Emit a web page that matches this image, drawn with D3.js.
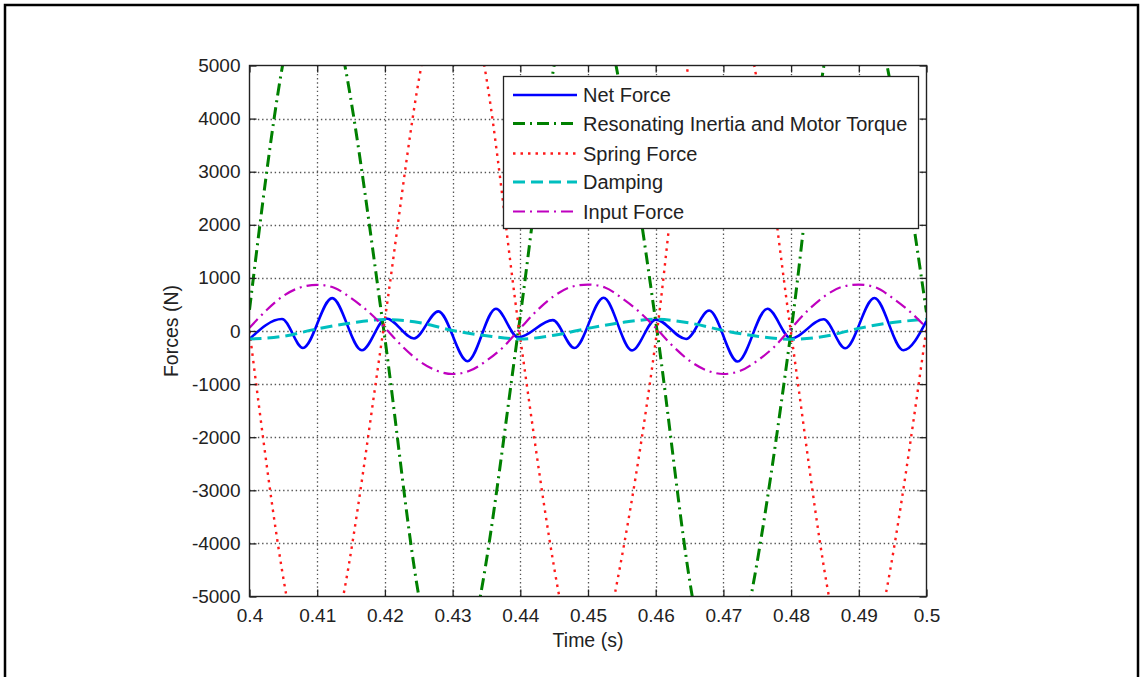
<!DOCTYPE html>
<html><head><meta charset="utf-8">
<script src="https://cdn.jsdelivr.net/npm/d3@7/dist/d3.min.js"></script>
<style>
body{margin:0;background:#fff}
svg{display:block}
text{font-family:"Liberation Sans",Arial,Helvetica,sans-serif;fill:#222}
</style>
</head><body>
<svg id="chart" width="1141" height="677"></svg>
<script>
// ---- data ----
const xTickValues = [0.40,0.41,0.42,0.43,0.44,0.45,0.46,0.47,0.48,0.49,0.50];
const xTickLabels = ["0.4","0.41","0.42","0.43","0.44","0.45","0.46","0.47","0.48","0.49","0.5"];
const yTickValues = [-5000,-4000,-3000,-2000,-1000,0,1000,2000,3000,4000,5000];
const yTickLabels = ["-5000","-4000","-3000","-2000","-1000","0","1000","2000","3000","4000","5000"];
const seriesNames = ["Net Force","Resonating Inertia and Motor Torque","Spring Force","Damping","Input Force"];

const netTime  = [0.4000,0.4048,0.4079,0.4122,0.4166,0.4202,0.4243,0.4279,0.4322,0.4364,0.4397,0.4448,0.4480,0.4523,0.4565,0.4600,0.4645,0.4679,0.4721,0.4765,0.4800,0.4848,0.4880,0.4923,0.4966,0.5000];
const netForce = [-150,225,-320,620,-362,235,-140,370,-570,420,-120,205,-320,625,-365,215,-150,385,-575,420,-140,220,-325,622,-362,190];

const resTime  = [0.4000,0.40488,0.4095,0.41409,0.41985,0.42502,0.4296,0.43409,0.4397,0.4450,0.4496,0.45414,0.4602,0.4654,0.4697,0.47407,0.4800,0.48485,0.4895,0.49417,0.5000];
const resForce = [400,5000,7400,5000,0,-5000,-7400,-5000,0,5000,7400,5000,0,-5000,-7400,-5000,0,5000,7400,5000,350];

const springTime  = [0.4000,0.40547,0.40965,0.41384,0.41975,0.4254,0.4300,0.43468,0.43985,0.44576,0.4498,0.45389,0.4602,0.4648,0.4697,0.47456,0.47995,0.48559,0.48975,0.49392,0.5000];
const springForce = [0,-5000,-7300,-5000,0,5000,7300,5000,0,-5000,-7300,-5000,0,5000,7300,5000,0,-5000,-7300,-5000,50];

const dampTime  = [0.400,0.405,0.410,0.415,0.420,0.425,0.430,0.435,0.440,0.445,0.450,0.455,0.460,0.465,0.470,0.475,0.480,0.485,0.490,0.495,0.500];
const dampForce = [-150,-100,40,150,215,160,10,-90,-150,-80,50,160,220,150,10,-100,-155,-100,50,160,220];

const inputTime  = [0.4000,0.4025,0.4050,0.4075,0.4100,0.4125,0.4150,0.4175,0.4200,0.4225,0.4250,0.4275,0.4300,0.4325,0.4350,0.4375,0.4400,0.4425,0.4450,0.4475,0.4500,0.4525,0.4550,0.4575,0.4600,0.4625,0.4650,0.4675,0.4700,0.4725,0.4750,0.4775,0.4800,0.4825,0.4850,0.4875,0.4900,0.4925,0.4950,0.4975,0.5000];
const inputForce = [60,390,660,820,870,815,620,370,60,-280,-560,-740,-810,-750,-560,-300,50,390,660,830,875,820,620,370,60,-280,-560,-740,-810,-750,-560,-300,50,390,660,830,875,820,620,370,60];

// ---- styles ----
const styles = [
  {color:"#0000ff", width:2.6, dash:null},
  {color:"#008000", width:3, dash:"12,5,2,5"},
  {color:"#ff1a1a", width:2.4, dash:"2.5,5"},
  {color:"#00bfbf", width:3, dash:"12,6"},
  {color:"#bf00bf", width:2.2, dash:"12,5,2,5"}
];
const seriesData = [
  d3.zip(netTime, netForce),
  d3.zip(resTime, resForce),
  d3.zip(springTime, springForce),
  d3.zip(dampTime, dampForce),
  d3.zip(inputTime, inputForce)
];

const svg = d3.select("#chart");
const L = 249.5, R = 926.5, T = 65.5, B = 596.5;
const x = d3.scaleLinear().domain([0.4,0.5]).range([L,R]);
const y = d3.scaleLinear().domain([-5000,5000]).range([B,T]);

// outer frame
svg.append("rect").attr("x",5).attr("y",5).attr("width",1133).attr("height",700)
  .attr("fill","none").attr("stroke","#000").attr("stroke-width",2.5);

// plot background
svg.append("rect").attr("x",L).attr("y",T).attr("width",R-L).attr("height",B-T).attr("fill","#fff");

// grid
const grid = svg.append("g").attr("stroke","#555").attr("stroke-width",1.3).attr("stroke-dasharray","1.4,2.8");
grid.selectAll("line.gx").data(xTickValues.slice(1,-1)).join("line")
  .attr("x1",d=>Math.round(x(d))+0.5).attr("x2",d=>Math.round(x(d))+0.5).attr("y1",T).attr("y2",B);
grid.selectAll("line.gy").data(yTickValues.slice(1,-1)).join("line")
  .attr("y1",d=>Math.round(y(d))+0.5).attr("y2",d=>Math.round(y(d))+0.5).attr("x1",L).attr("x2",R);

// clip
svg.append("defs").append("clipPath").attr("id","plotclip")
  .append("rect").attr("x",L).attr("y",T).attr("width",R-L).attr("height",B-T);

const line = d3.line().x(d=>x(d[0])).y(d=>y(d[1])).curve(d3.curveMonotoneX);
const lines = svg.append("g").attr("clip-path","url(#plotclip)");
seriesData.forEach((data,i)=>{
  lines.append("path").datum(data).attr("d",line)
    .attr("fill","none").attr("stroke",styles[i].color).attr("stroke-width",styles[i].width)
    .attr("stroke-dasharray",styles[i].dash).attr("stroke-linejoin","round");
});

// axes (ticks inward on all four sides)
const fontSize = 19;
const fmtX = (d,i)=>xTickLabels[i];
const fmtY = (d,i)=>yTickLabels[i];
const axB = svg.append("g").attr("transform",`translate(0,${B})`)
  .call(d3.axisBottom(x).tickValues(xTickValues).tickFormat(fmtX).tickSizeInner(-7).tickSizeOuter(0).tickPadding(12));
const axL = svg.append("g").attr("transform",`translate(${L},0)`)
  .call(d3.axisLeft(y).tickValues(yTickValues).tickFormat(fmtY).tickSizeInner(-7).tickSizeOuter(0).tickPadding(9));
const axT = svg.append("g").attr("transform",`translate(0,${T})`)
  .call(d3.axisTop(x).tickValues(xTickValues).tickFormat("").tickSizeInner(-7).tickSizeOuter(0));
const axR = svg.append("g").attr("transform",`translate(${R},0)`)
  .call(d3.axisRight(y).tickValues(yTickValues).tickFormat("").tickSizeInner(-7).tickSizeOuter(0));
[axB,axL,axT,axR].forEach(g=>{
  g.select(".domain").remove();
  g.selectAll(".tick line").attr("stroke","#222").attr("stroke-width",1.3);
  g.selectAll("text").attr("font-size",fontSize).attr("fill","#222")
    .style("font-family","'Liberation Sans',Arial,sans-serif");
});
// axis box
svg.append("rect").attr("x",L).attr("y",T).attr("width",R-L).attr("height",B-T)
  .attr("fill","none").attr("stroke","#222").attr("stroke-width",1.4);

// axis titles
svg.append("text").attr("x",(L+R)/2).attr("y",647).attr("text-anchor","middle")
  .attr("font-size",fontSize+0.5).text("Time (s)");
svg.append("text").attr("transform",`translate(178,${(T+B)/2}) rotate(-90)`).attr("text-anchor","middle")
  .attr("font-size",fontSize+0.5).text("Forces (N)");

// legend
const lgX = 503.5, lgY = 76.5, lgW = 415, lgH = 152;
const lg = svg.append("g");
lg.append("rect").attr("x",lgX).attr("y",lgY).attr("width",lgW).attr("height",lgH)
  .attr("fill","#fff").attr("stroke","#222").attr("stroke-width",1.3);
const rowY = [95,123.5,153.5,182,211.5];
seriesNames.forEach((name,i)=>{
  lg.append("line").attr("x1",513).attr("x2",577).attr("y1",rowY[i]).attr("y2",rowY[i])
    .attr("stroke",styles[i].color).attr("stroke-width",styles[i].width)
    .attr("stroke-dasharray",styles[i].dash);
  lg.append("text").attr("x",583).attr("y",rowY[i]).attr("dy","0.36em")
    .attr("font-size",20).text(name);
});
</script>
</body></html>
